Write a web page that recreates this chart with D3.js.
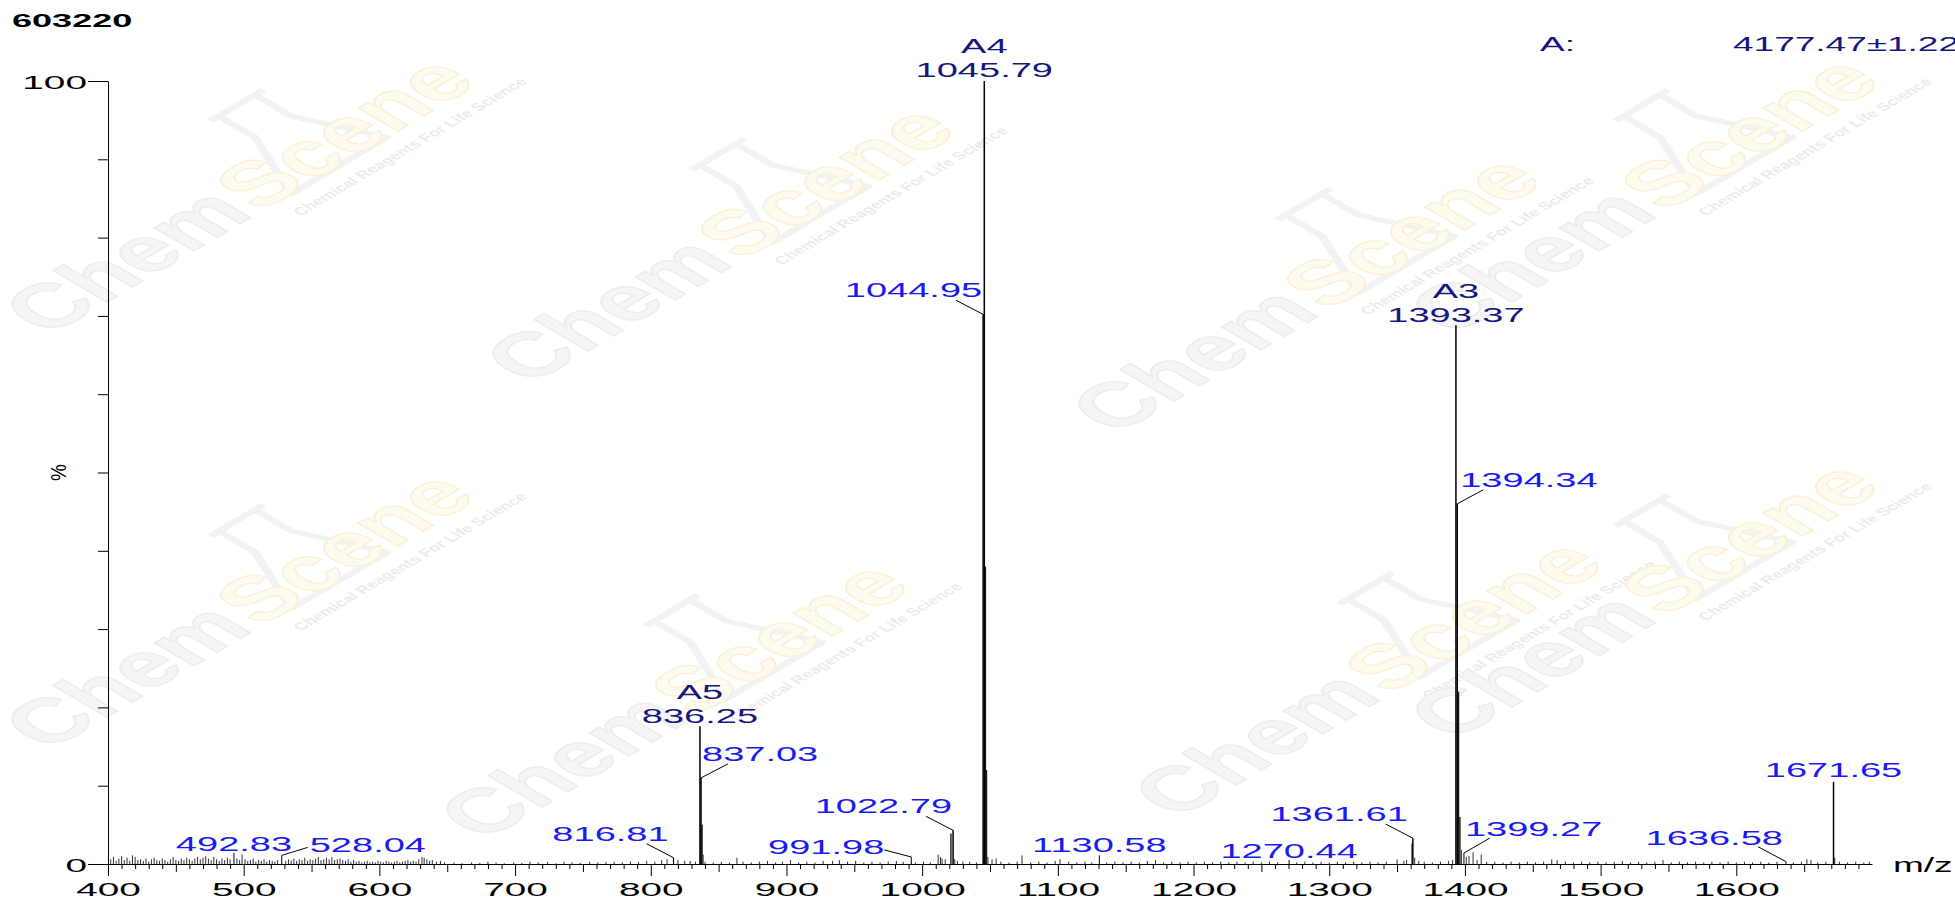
<!DOCTYPE html>
<html>
<head>
<meta charset="utf-8">
<script src="https://cdn.jsdelivr.net/npm/d3@7"></script>
<style>
body { margin: 0; background: #fff; }
svg { display: block; }
text { font-family: "Liberation Sans", Arial, sans-serif; }
</style>
</head>
<body>
<div id="chart"></div>
<script>
// ---- data ----
const sampleId = "603220";
const resultLabel = "A:";
const resultValue = "4177.47\u00b11.22";

// labelled peaks
const peakMz    = [492.83, 528.04, 816.81, 836.25, 837.03, 991.98, 1022.79, 1044.95, 1045.79, 1130.58, 1270.44, 1361.61, 1393.37, 1394.34, 1399.27, 1636.58, 1671.65];
const peakInt   = [1.4,    1.1,    0.8,    17.6,   11.0,   0.9,    4.3,     70.2,    100,     1.1,     0.5,     3.3,     68.8,    46.0,    1.4,     0.3,     10.5];
const peakTag   = ["",     "",     "",     "A5",   "",     "",     "",      "",      "A4",    "",      "",      "",      "A3",    "",      "",      "",      ""];

// unlabelled peaks: isotopes and baseline noise [m/z, %]
const minorPeaks = [
  [402,0.6],[404,0.9],[406,0.4],[408,0.7],[410,1.0],[412,0.5],[414,0.8],[416,0.4],[418,1.1],[420,0.9],
  [422,0.5],[424,0.6],[426,0.4],[428,0.7],[430,0.3],[432,0.6],[434,0.8],[436,0.5],[438,0.4],[440,0.7],
  [442,0.5],[444,0.3],[446,0.6],[448,0.9],[450,0.5],[452,0.4],[454,0.7],[456,0.5],[458,0.8],[460,0.6],
  [462,0.4],[464,0.7],[466,0.9],[468,0.6],[470,0.8],[472,1.0],[474,0.7],[476,0.5],[478,0.9],[480,0.6],
  [482,0.4],[484,0.7],[486,0.5],[488,0.8],[490,0.6],[495,0.7],[497,0.5],[498.8,1.2],[501,0.6],[503,0.4],
  [505,0.5],[507,0.7],[509,0.3],[511,0.5],[513,0.4],[515,0.6],[517,0.3],[519,0.5],[521,0.4],[523,0.3],
  [525,0.5],[531,0.4],[533,0.6],[535,0.5],[537,0.7],[539,0.4],[541,0.6],[543,0.5],[545,0.8],[547,0.4],
  [549,0.6],[551,0.5],[553,0.7],[555,0.9],[557,0.5],[559,0.6],[561,0.8],[563,0.6],[565,0.9],[567,0.5],
  [569,0.6],[571,0.7],[573,0.5],[575,0.4],[577,0.6],[579,0.3],[581,0.5],[583,0.3],[585,0.4],[587,0.2],
  [589,0.3],[591,0.4],[593,0.2],[595,0.3],[597,0.2],[599,0.4],[601,0.3],[603,0.2],[605,0.4],[607,0.3],
  [609,0.2],[611,0.3],[613,0.4],[615,0.2],[617,0.3],[619,0.4],[621,0.5],[623,0.3],[625,0.4],[627,0.3],
  [629,0.6],[631.4,0.9],[633,0.8],[635,0.6],[637,0.4],[639,0.5],[642,0.3],[645,0.4],[648,0.2],
  [655,0.2],[661,0.1],[668,0.2],[674,0.15],[680,0.3],[686,0.2],[692,0.1],[699,0.2],[705,0.15],[711,0.3],
  [717,0.2],[724,0.25],[730,0.1],[736,0.3],[742,0.2],[748,0.15],[755,0.3],[761,0.2],[767,0.25],[773,0.3],
  [779,0.2],[785,0.35],[791,0.25],[797,0.4],[803,0.3],[808,0.5],[812,0.6],[820,0.5],[825,0.4],[829,0.4],
  [833,0.3],[837.8,5.0],[838.6,1.2],[840,0.3],[846,0.2],[852,0.3],[858,0.2],[863.5,0.8],[868,0.3],[874,0.2],
  [880,0.3],[886,0.4],[892,0.2],[897,0.3],[903,0.5],[909,0.2],[915,0.3],[921,0.2],[927,0.4],[934,0.4],
  [939,0.5],[945,0.3],[951,0.4],[957,0.2],[963,0.3],[969,0.2],[975,0.3],[981,0.4],[986,0.3],[995,0.2],
  [1001,0.3],[1006,0.2],[1011.8,1.2],[1013.5,0.9],[1014.7,0.7],[1017,0.6],[1021.2,3.9],[1024,0.6],[1026,0.4],[1030,0.3],
  [1035,0.3],[1040,0.2],[1046.62,38],[1047.45,12],[1048.5,0.9],[1051.5,0.6],[1054.5,0.7],[1058,0.3],[1064,0.2],[1070,0.3],
  [1073.6,1.1],[1080,0.2],[1086,0.3],[1092,0.2],[1098,0.4],[1101.6,0.6],[1108,0.3],[1114,0.2],[1120,0.3],[1125,0.2],
  [1136,0.2],[1142,0.3],[1148,0.2],[1154,0.3],[1160,0.2],[1166,0.4],[1172,0.5],[1178,0.2],[1184,0.3],[1190,0.2],
  [1196,0.3],[1202,0.2],[1208,0.3],[1214,0.2],[1220,0.3],[1226,0.2],[1232,0.3],[1238,0.2],[1244,0.3],[1250,0.2],
  [1256,0.3],[1262,0.2],[1276,0.2],[1282,0.3],[1288,0.2],[1294,0.3],[1300,0.2],[1306,0.3],[1312,0.2],[1318,0.3],
  [1324,0.2],[1330,0.3],[1336,0.2],[1342,0.3],[1350,0.6],[1355,0.4],[1357,0.5],[1360.9,2.6],[1363,0.8],[1366,0.4],
  [1370,0.3],[1376,0.2],[1382,0.3],[1388,0.4],[1391,0.5],[1395.3,22],[1396.3,6],[1397.4,1.8],[1401,0.9],[1403,1.0],
  [1406,1.5],[1409,0.5],[1412,1.2],[1416,0.3],[1422,0.3],[1428,0.2],[1434,0.3],[1440,0.2],[1446,0.3],[1452,0.2],
  [1458,0.3],[1464,0.6],[1468,0.5],[1474,0.3],[1480,0.2],[1486,0.3],[1492,0.2],[1498,0.3],[1504,0.2],[1510,0.3],
  [1516,0.4],[1522,0.2],[1528,0.3],[1534,0.2],[1540,0.3],[1546,0.5],[1552,0.2],[1558,0.3],[1564,0.2],[1570,0.3],
  [1576,0.2],[1582,0.3],[1588,0.2],[1594,0.3],[1600,0.2],[1606,0.3],[1612,0.2],[1618,0.3],[1624,0.2],[1630,0.3],
  [1642,0.2],[1648,0.3],[1652,0.6],[1655,0.5],[1660,0.2],[1666,0.3],[1672.5,0.8],[1676,0.3],[1682,0.2],[1688,0.3],
  [1694,0.2],[1698,0.3]
];

const xTickLabels = ["400","500","600","700","800","900","1000","1100","1200","1300","1400","1500","1600"];
const yTickLabels = ["0","100"];
const yAxisTitle = "%";
const xAxisTitle = "m/z";

// ---- layout ----
const W = 1955, H = 899;
const navy = "#16167f", blue = "#1a1af5";

// label offsets from the peak top, in px (text anchor point, leader start)
const labelLayout = {
  "492.83":  {a: "middle", dx: 0,   dy: -2},
  "528.04":  {a: "start",  dx: 28,  dy: -3,  lx: 26,  ly: -8},
  "816.81":  {a: "end",    dx: -5,  dy: -17, lx: -27, ly: -14},
  "836.25":  {a: "middle", dx: 0,   dy: -3},
  "837.03":  {a: "start",  dx: 1,   dy: -17, lx: 27,  ly: -14},
  "991.98":  {a: "end",    dx: -27, dy: -3,  lx: -27, ly: -7},
  "1022.79": {a: "end",    dx: -1,  dy: -17, lx: -27, ly: -14},
  "1044.95": {a: "end",    dx: -1,  dy: -17, lx: -27, ly: -14},
  "1045.79": {a: "middle", dx: 0,   dy: -4},
  "1130.58": {a: "middle", dx: 0,   dy: -3},
  "1270.44": {a: "middle", dx: 0,   dy: -2},
  "1361.61": {a: "end",    dx: -5,  dy: -17, lx: -27, ly: -14},
  "1393.37": {a: "middle", dx: 0,   dy: -3},
  "1394.34": {a: "start",  dx: 3,   dy: -17, lx: 26,  ly: -14},
  "1399.27": {a: "start",  dx: 1,   dy: -17, lx: 26,  ly: -15},
  "1636.58": {a: "end",    dx: -3,  dy: -17, lx: -28, ly: -15},
  "1671.65": {a: "middle", dx: 0,   dy: -5}
};

// watermark tile anchors (kept inside the picture)
const wmTiles = [[255,215],[736,264],[1322,314],[1660,215],[255,630],[690,720],[1384,698],[1660,620]];

const svg = d3.select("#chart").append("svg")
  .attr("width", W).attr("height", H);

// horizontally stretched text, like the original export
function addText(parent, x, y, txt, opt) {
  const o = Object.assign({size: 20, fill: "#000", anchor: "start", sx: 1.9, weight: "normal", rot: 0}, opt);
  return parent.append("text")
    .attr("transform", `translate(${x},${y}) scale(${o.sx},1)` + (o.rot ? ` rotate(${o.rot})` : ""))
    .attr("text-anchor", o.anchor)
    .attr("font-size", o.size)
    .attr("font-weight", o.weight)
    .attr("fill", o.fill)
    .text(txt);
}

// ---- watermark (very faint) ----
const wm = svg.append("g").attr("class", "watermark");
wmTiles.forEach(([cx, cy]) => {
  const g = wm.append("g").attr("transform", `translate(${cx},${cy}) scale(1.7,1) rotate(-45)`);
  g.append("path")
    .attr("d", "M55,-85 L55,-55 L30,0 L110,0 L85,-55 L85,-85 M48,-85 L92,-85")
    .attr("fill", "none").attr("stroke", "#f2f2f2").attr("stroke-width", 5)
    .attr("stroke-linejoin", "round");
  g.append("text").attr("x", 0).attr("y", 0).attr("text-anchor", "end")
    .attr("font-size", 62).attr("font-weight", "bold")
    .attr("fill", "#f5f5f5").attr("stroke", "#ececec").attr("stroke-width", 1.2)
    .text("Chem");
  g.append("text").attr("x", 4).attr("y", 0)
    .attr("font-size", 62).attr("font-weight", "bold")
    .attr("fill", "#fffaee").attr("stroke", "#faf0d9").attr("stroke-width", 1.2)
    .text("Scene");
  g.append("text").attr("x", 18).attr("y", 20)
    .attr("font-size", 11).attr("font-weight", "bold").attr("fill", "#ebebeb")
    .text("Chemical Reagents For Life Science");
});

// ---- scales ----
const x = d3.scaleLinear().domain([400, 1700]).range([108, 1872]);
const y = d3.scaleLinear().domain([0, 100]).range([864, 81]);

// ---- axes ----
const minorX = d3.range(400, 1700, 10).filter(v => v % 50 !== 0);
const midX = d3.range(450, 1700, 100);
const majorX = xTickLabels.map(Number);

svg.append("g").attr("transform", `translate(0,${y(0)})`)
  .call(d3.axisBottom(x).tickValues(minorX).tickSize(5).tickSizeOuter(0).tickFormat(""))
  .call(g => g.select(".domain").remove());
svg.append("g").attr("transform", `translate(0,${y(0)})`)
  .call(d3.axisBottom(x).tickValues(midX).tickSize(8).tickSizeOuter(0).tickFormat(""))
  .call(g => g.select(".domain").remove());
const xAxis = svg.append("g").attr("transform", `translate(0,${y(0)})`)
  .call(d3.axisBottom(x).tickValues(majorX).tickSize(12).tickSizeOuter(0).tickFormat((d, i) => xTickLabels[i]));
xAxis.selectAll("text")
  .attr("y", null).attr("dy", null)
  .attr("transform", "translate(0,32) scale(2.15,1)")
  .attr("font-size", 18).attr("fill", "#000")
  .style("font-family", "'Liberation Sans', Arial, sans-serif");

const yAxisMinor = svg.append("g").attr("transform", `translate(${x(400)},0)`)
  .call(d3.axisLeft(y).tickValues(d3.range(10, 100, 10)).tickSize(10).tickSizeOuter(0).tickFormat(""));
const yAxis = svg.append("g").attr("transform", `translate(${x(400)},0)`)
  .call(d3.axisLeft(y).tickValues(yTickLabels.map(Number)).tickSize(20).tickSizeOuter(0).tickPadding(1)
    .tickFormat((d, i) => yTickLabels[i]));
yAxisMinor.select(".domain").remove();
yAxis.selectAll("text")
  .attr("x", null).attr("dy", null)
  .attr("transform", "translate(-21,7) scale(2.1,1)")
  .attr("font-size", 18.5).attr("fill", "#000")
  .style("font-family", "'Liberation Sans', Arial, sans-serif");
svg.selectAll(".tick line, .domain").attr("stroke", "#000").attr("stroke-width", 1);

addText(svg, 66, y(50), yAxisTitle, {size: 19, sx: 1.2, rot: -90, anchor: "middle"});
addText(svg, 1893, 872, xAxisTitle, {size: 20, sx: 1.85});

// ---- spectrum ----
svg.append("g").selectAll("line.noise")
  .data(minorPeaks)
  .join("line")
  .attr("class", "noise")
  .attr("x1", d => x(d[0])).attr("x2", d => x(d[0]))
  .attr("y1", y(0)).attr("y2", d => y(d[1]))
  .attr("stroke", "#1a1a1a").attr("stroke-width", d => d[1] > 3 ? 1.4 : 0.9);

const peaks = peakMz.map((m, i) => ({mz: m, int: peakInt[i], tag: peakTag[i], label: m.toFixed(2)}));

svg.append("g").selectAll("line.peak")
  .data(peaks)
  .join("line")
  .attr("class", "peak")
  .attr("x1", d => x(d.mz)).attr("x2", d => x(d.mz))
  .attr("y1", y(0)).attr("y2", d => y(d.int))
  .attr("stroke", "#000").attr("stroke-width", d => d.int > 3 ? 1.5 : 1);

// leader lines
svg.append("g").selectAll("line.leader")
  .data(peaks.filter(d => labelLayout[d.label].lx !== undefined))
  .join("line")
  .attr("class", "leader")
  .attr("x1", d => x(d.mz)).attr("y1", d => y(d.int))
  .attr("x2", d => x(d.mz) + labelLayout[d.label].lx)
  .attr("y2", d => y(d.int) + labelLayout[d.label].ly)
  .attr("stroke", "#000").attr("stroke-width", 1);

// peak labels
const labels = svg.append("g");
peaks.forEach(d => {
  const L = labelLayout[d.label];
  const px = x(d.mz) + L.dx, py = y(d.int) + L.dy;
  const col = d.tag ? navy : blue;
  addText(labels, px, py, d.label, {size: 20, fill: col, anchor: L.a, sx: 1.9});
  if (d.tag) addText(labels, px, py - 24, d.tag, {size: 20, fill: col, anchor: "middle", sx: 1.9});
});

// ---- header ----
addText(svg, 12, 27, sampleId, {size: 18.5, weight: "bold", sx: 1.95});
addText(svg, 1540, 51, resultLabel, {size: 20, fill: navy, sx: 1.85});
addText(svg, 1733, 51, resultValue, {size: 20, fill: navy, sx: 1.85});
</script>
</body>
</html>
